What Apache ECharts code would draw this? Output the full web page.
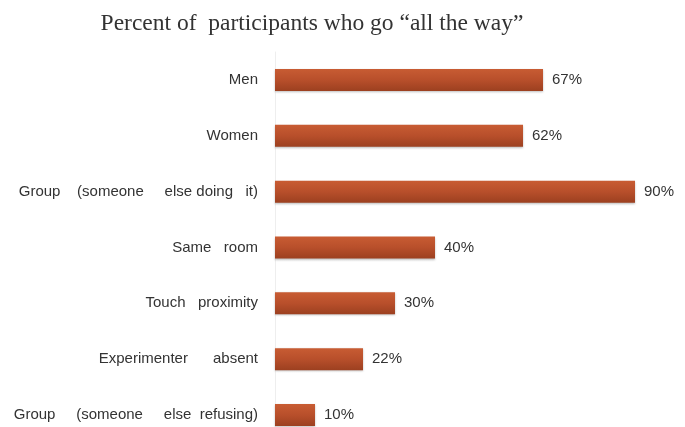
<!DOCTYPE html>
<html>
<head>
<meta charset="utf-8">
<script src="https://cdn.jsdelivr.net/npm/echarts@6/dist/echarts.min.js"></script>
<style>html,body{margin:0;padding:0;background:#fff;}#c{width:685px;height:427px;}</style>
</head>
<body>
<div id="c"></div>
<script>
var categories = ["Men", "Women", "Group    (someone     else doing   it)", "Same   room", "Touch   proximity", "Experimenter      absent", "Group     (someone     else  refusing)"];
var values = [67, 62, 90, 40, 30, 22, 10];
var titleText = "Percent of  participants who go \u201call the way\u201d";

var chart = echarts.init(document.getElementById('c'));
chart.setOption({
  backgroundColor: '#ffffff',
  animation: false,
  title: {
    text: titleText,
    left: 307, top: 7, textAlign: 'center',
    textStyle: { fontFamily: 'Liberation Serif', fontSize: 23.5, fontWeight: 'normal', color: '#333' }
  },
  grid: { left: 275, top: 52, width: 400, height: 391, containLabel: false, outerBoundsMode: 'none' },
  xAxis: { type: 'value', min: 0, max: 100, show: false },
  yAxis: {
    type: 'category', data: categories, inverse: true,
    axisLine: { show: true, lineStyle: { color: '#eeeeee', width: 1 } },
    axisTick: { show: false },
    axisLabel: { margin: 17, fontFamily: 'Liberation Sans', fontSize: 15, color: '#333' }
  },
  series: [{
    type: 'bar', data: values, barWidth: 22,
    itemStyle: {
      color: new echarts.graphic.LinearGradient(0, 0, 0, 1, [
        { offset: 0, color: '#c85c33' },
        { offset: 0.5, color: '#b84f2b' },
        { offset: 1, color: '#9c4020' }
      ]),
      shadowColor: 'rgba(0,0,0,0.25)', shadowBlur: 2, shadowOffsetY: 1
    },
    label: {
      show: true, position: 'right', distance: 9, formatter: '{c}%',
      fontFamily: 'Liberation Sans', fontSize: 15, color: '#333'
    }
  }]
});
</script>
</body>
</html>
